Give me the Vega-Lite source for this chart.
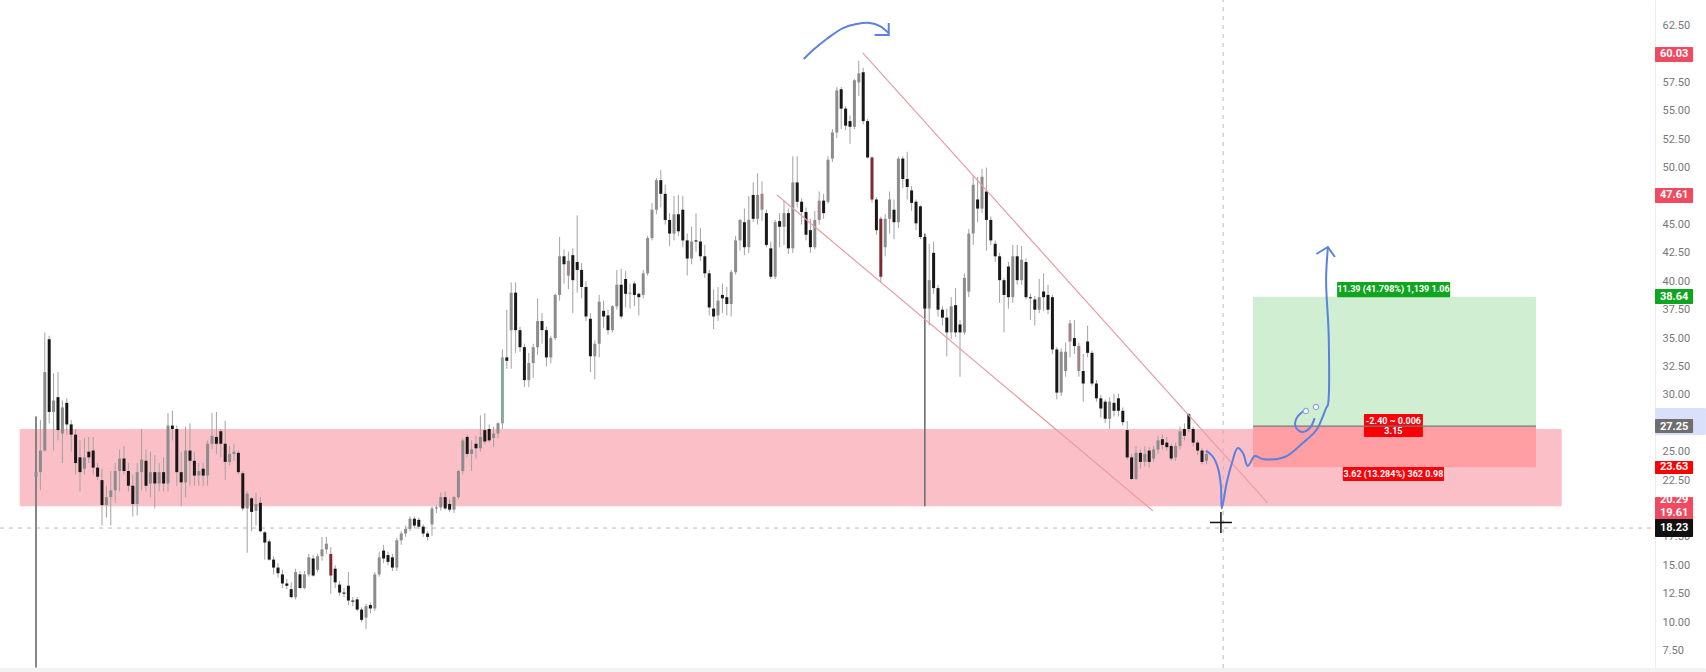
{"$schema":"https://vega.github.io/schema/vega-lite/v6.json","width":1655,"height":668,"autosize":"none","padding":{"left":0,"top":0,"right":51,"bottom":4},"background":"#ffffff","config":{"view":{"stroke":null},"text":{"font":"Roboto"}},
"datasets":{
"rects":[
{"kind":"strip","x":-8.18,"x2":379.5,"hi":5.96,"lo":5.61},
{"kind":"band","x":367.95,"x2":379.5,"hi":28.85,"lo":26.47},
{"kind":"zone","x":-3.7,"x2":346.75,"hi":27.0,"lo":20.2},
{"kind":"profit","x":276.6,"x2":340.9,"hi":38.64,"lo":27.25},
{"kind":"loss","x":276.6,"x2":340.9,"hi":27.25,"lo":23.63},
{"kind":"flagGreen","x":295.7,"x2":321.4,"hi":39.94,"lo":38.6},
{"kind":"flagRed","x":301.8,"x2":315.2,"hi":28.32,"lo":26.29},
{"kind":"flagRed","x":297,"x2":320,"hi":23.65,"lo":22.42},
{"kind":"tagRed","x":367.95,"x2":376.6,"hi":60.62,"lo":59.3},
{"kind":"tagRed","x":367.95,"x2":376.6,"hi":48.21,"lo":46.89},
{"kind":"tagGreen","x":367.95,"x2":376.6,"hi":39.32,"lo":38.0},
{"kind":"tagGray","x":367.95,"x2":376.6,"hi":27.88,"lo":26.64},
{"kind":"tagBright","x":367.95,"x2":376.6,"hi":24.18,"lo":23.03},
{"kind":"tagRed","x":367.95,"x2":376.6,"hi":21.01,"lo":18.98},
{"kind":"tagBlack","x":367.95,"x2":376.6,"hi":19.07,"lo":17.49}
],
"segments":[
{"kind":"cross","x":269.8,"x2":269.8,"y":5.96,"y2":64.76},
{"kind":"cross","x":-8.18,"x2":367.95,"y":18.28,"y2":18.28},
{"kind":"entry","x":276.6,"x2":340.9,"y":27.25,"y2":27.25},
{"kind":"channel","x":187.9,"x2":279.9,"y":60.1,"y2":20.5},
{"kind":"channel","x":168.4,"x2":253.8,"y":47.6,"y2":19.8},
{"kind":"cursor","x":269.3,"x2":269.3,"y":19.69,"y2":17.84},
{"kind":"cursor","x":266.8,"x2":271.8,"y":18.77,"y2":18.77}
],
"sketch":[
{"id":"arc","n":1,"x":174.5,"p":59.57},{"id":"arc","n":2,"x":176.6,"p":60.36},{"id":"arc","n":3,"x":179.7,"p":61.33},{"id":"arc","n":4,"x":183.4,"p":62.29},{"id":"arc","n":5,"x":186.5,"p":62.65},{"id":"arc","n":6,"x":189.5,"p":62.74},{"id":"arc","n":7,"x":191.8,"p":62.47},{"id":"arc","n":8,"x":193.8,"p":61.86},
{"id":"main","n":1,"x":265.9,"p":25.1},{"id":"main","n":2,"x":267.4,"p":24.6},{"id":"main","n":3,"x":268.6,"p":23.6},{"id":"main","n":4,"x":269.3,"p":22.0},{"id":"main","n":5,"x":269.5,"p":20.0},{"id":"main","n":6,"x":270.6,"p":22.24},{"id":"main","n":7,"x":271.8,"p":24.0},{"id":"main","n":8,"x":273.1,"p":25.32},{"id":"main","n":9,"x":274.3,"p":24.88},{"id":"main","n":10,"x":275.4,"p":23.74},{"id":"main","n":11,"x":277,"p":24.62},{"id":"main","n":12,"x":278.8,"p":24.35},{"id":"main","n":13,"x":283.8,"p":24.53},{"id":"main","n":14,"x":287.9,"p":25.76},{"id":"main","n":15,"x":291,"p":26.91},{"id":"main","n":16,"x":292.4,"p":28.05},{"id":"main","n":17,"x":293.2,"p":28.84},{"id":"main","n":18,"x":293.6,"p":29.11},{"id":"main","n":19,"x":293.8,"p":35.09},{"id":"main","n":20,"x":293.2,"p":40.11},{"id":"main","n":21,"x":293.6,"p":42.93},
{"id":"loop","n":1,"x":290.6,"p":27.96},{"id":"loop","n":2,"x":289.5,"p":27.08},{"id":"loop","n":3,"x":287.7,"p":26.73},{"id":"loop","n":4,"x":286.3,"p":27.17},{"id":"loop","n":5,"x":286.5,"p":27.96},{"id":"loop","n":6,"x":288.4,"p":28.67},
{"id":"arrow1","n":1,"x":190.6,"p":61.68},{"id":"arrow1","n":2,"x":193.8,"p":61.68},{"id":"arrow1","n":3,"x":193.8,"p":62.74},
{"id":"arrow2","n":1,"x":291,"p":42.4},{"id":"arrow2","n":2,"x":293.6,"p":43.02},{"id":"arrow2","n":3,"x":295.2,"p":42.14}
],
"handles":[{"x":288.6,"p":28.58},{"x":290.9,"p":28.93}],
"labels":[
{"group":"tag","label":"60.03","x":372.3,"at":60.03},
{"group":"tag","label":"47.61","x":372.3,"at":47.61},
{"group":"tag","label":"38.64","x":372.3,"at":38.64},
{"group":"tag","label":"27.25","x":372.3,"at":27.2},
{"group":"tag","label":"23.63","x":372.3,"at":23.63},
{"group":"tag","label":"20.29","x":372.3,"at":20.72},
{"group":"tag","label":"19.61","x":372.3,"at":19.6},
{"group":"tag","label":"18.23","x":372.3,"at":18.28},
{"group":"pos","label":"11.39 (41.798%) 1,139 1.06","x":308.5,"at":39.28},
{"group":"pos","label":"-2.40 ~ 0.006","x":308.5,"at":27.72},
{"group":"pos","label":"3.15","x":308.5,"at":26.82},
{"group":"pos","label":"3.62 (13.284%) 362 0.98","x":308.5,"at":23.04}
],
"candles":[
{"t":0,"o":22.8,"h":28.1,"l":6,"c":23.2,"k":"up"},{"t":1,"o":23.2,"h":27.8,"l":21.6,"c":25.1,"k":"up"},{"t":2,"o":25.1,"h":35.5,"l":25,"c":32,"k":"up"},{"t":3,"o":34.9,"h":35.2,"l":27.5,"c":28.5,"k":"down"},{"t":4,"o":28.5,"h":31.9,"l":25.1,"c":29.5,"k":"up"},{"t":5,"o":29.8,"h":32,"l":26,"c":26.9,"k":"down"},{"t":6,"o":26.6,"h":29.5,"l":24,"c":28.9,"k":"up"},{"t":7,"o":29.3,"h":29.7,"l":26.5,"c":27.4,"k":"down"},{"t":8,"o":27.4,"h":27.8,"l":25,"c":26.5,"k":"down"},{"t":9,"o":26.5,"h":27,"l":23,"c":24,"k":"down"},
{"t":10,"o":24.5,"h":26,"l":21.5,"c":23.2,"k":"down"},{"t":11,"o":23.5,"h":26.2,"l":23,"c":24.5,"k":"up"},{"t":12,"o":25,"h":26.3,"l":24,"c":24.5,"k":"down"},{"t":13,"o":25.1,"h":26.3,"l":23,"c":23.6,"k":"down"},{"t":14,"o":23.6,"h":24,"l":22.5,"c":22.8,"k":"down"},{"t":15,"o":22.5,"h":23.5,"l":18.5,"c":20.3,"k":"down"},{"t":16,"o":20.3,"h":22,"l":19.2,"c":21,"k":"up"},{"t":17,"o":21,"h":23.3,"l":18.5,"c":21.6,"k":"up"},{"t":18,"o":21.6,"h":24,"l":20.5,"c":23.3,"k":"up"},{"t":19,"o":23.3,"h":25.2,"l":21.5,"c":24.4,"k":"up"},
{"t":20,"o":24.4,"h":25.5,"l":23,"c":23.3,"k":"down"},{"t":21,"o":23.3,"h":24,"l":21.5,"c":22,"k":"down"},{"t":22,"o":22,"h":23,"l":19.3,"c":20.4,"k":"down"},{"t":23,"o":20.4,"h":24,"l":19.4,"c":23.2,"k":"up"},{"t":24,"o":23.2,"h":27,"l":21.6,"c":24.3,"k":"up"},{"t":25,"o":24.2,"h":25.2,"l":21.5,"c":22,"k":"down"},{"t":26,"o":22.2,"h":25,"l":21,"c":23.2,"k":"up"},{"t":27,"o":23.2,"h":24.7,"l":20,"c":22.2,"k":"down"},{"t":28,"o":22.2,"h":24,"l":21.5,"c":23.2,"k":"up"},{"t":29,"o":23.2,"h":24.5,"l":21.5,"c":22.2,"k":"down"},
{"t":30,"o":22.2,"h":28.4,"l":21.5,"c":27.3,"k":"up"},{"t":31,"o":27.3,"h":28.6,"l":26,"c":27,"k":"down"},{"t":32,"o":27,"h":27.3,"l":22,"c":23.2,"k":"down"},{"t":33,"o":23.2,"h":25,"l":20.2,"c":22.3,"k":"down"},{"t":34,"o":22.3,"h":27.2,"l":21,"c":25.1,"k":"up"},{"t":35,"o":25.1,"h":27.5,"l":22,"c":24.2,"k":"down"},{"t":36,"o":24.2,"h":25,"l":22,"c":22.9,"k":"down"},{"t":37,"o":22.9,"h":24,"l":22,"c":23.3,"k":"up"},{"t":38,"o":23.5,"h":24,"l":22,"c":22.9,"k":"down"},{"t":39,"o":22.9,"h":26,"l":22,"c":25.7,"k":"up"},
{"t":40,"o":25.7,"h":28.4,"l":25.2,"c":26.4,"k":"up"},{"t":41,"o":26.3,"h":28.5,"l":24.8,"c":25.7,"k":"down"},{"t":42,"o":26.8,"h":27,"l":24.5,"c":25.7,"k":"down"},{"t":43,"o":25.7,"h":27.7,"l":22.5,"c":24.1,"k":"down"},{"t":44,"o":24.1,"h":25.5,"l":23.8,"c":24.8,"k":"up"},{"t":45,"o":24.8,"h":25.7,"l":24.2,"c":25,"k":"up"},{"t":46,"o":24.9,"h":25.1,"l":23,"c":23.2,"k":"down"},{"t":47,"o":23.1,"h":23.3,"l":19.8,"c":20,"k":"down"},{"t":48,"o":20,"h":21.5,"l":16.1,"c":21.3,"k":"up"},{"t":49,"o":20.9,"h":21,"l":18,"c":19.7,"k":"down"},
{"t":50,"o":19.8,"h":21.4,"l":18.5,"c":20.4,"k":"up"},{"t":51,"o":20.5,"h":21,"l":17.9,"c":18,"k":"down"},{"t":52,"o":17.9,"h":18,"l":15.5,"c":17,"k":"down"},{"t":53,"o":17.1,"h":17.3,"l":15.4,"c":15.5,"k":"down"},{"t":54,"o":15.5,"h":15.8,"l":14.2,"c":14.8,"k":"down"},{"t":55,"o":14.8,"h":15.2,"l":13.9,"c":14.3,"k":"down"},{"t":56,"o":14.2,"h":14.6,"l":13,"c":13.4,"k":"down"},{"t":57,"o":13.4,"h":13.8,"l":12.9,"c":13.2,"k":"down"},{"t":58,"o":12.9,"h":13.5,"l":12.1,"c":12.2,"k":"down"},{"t":59,"o":12.2,"h":14.7,"l":12,"c":14.4,"k":"up"},
{"t":60,"o":14.2,"h":14.5,"l":12.9,"c":13,"k":"down"},{"t":61,"o":13,"h":14.5,"l":12.9,"c":14.2,"k":"up"},{"t":62,"o":14.2,"h":16,"l":14,"c":15.7,"k":"up"},{"t":63,"o":15.6,"h":15.9,"l":14,"c":14.1,"k":"down"},{"t":64,"o":14.6,"h":16,"l":14.4,"c":15.8,"k":"up"},{"t":65,"o":15.8,"h":17.5,"l":15.4,"c":16.4,"k":"up"},{"t":66,"o":16.4,"h":17.5,"l":16,"c":16.9,"k":"up"},{"t":67,"o":16,"h":16.6,"l":12.5,"c":14.1,"k":"red"},{"t":68,"o":14.7,"h":15,"l":13,"c":13.5,"k":"down"},{"t":69,"o":13.3,"h":13.6,"l":12.3,"c":12.6,"k":"down"},
{"t":70,"o":12.6,"h":13,"l":12.2,"c":12.5,"k":"down"},{"t":71,"o":13.2,"h":14.4,"l":11.5,"c":11.9,"k":"down"},{"t":72,"o":11.9,"h":12.2,"l":11.4,"c":11.8,"k":"down"},{"t":73,"o":12,"h":12.2,"l":11,"c":11.1,"k":"down"},{"t":74,"o":11.1,"h":11.3,"l":10,"c":10.2,"k":"down"},{"t":75,"o":10.4,"h":11.6,"l":9.4,"c":11.4,"k":"up"},{"t":76,"o":11.5,"h":11.7,"l":10.8,"c":11.2,"k":"down"},{"t":77,"o":11.2,"h":14.4,"l":11,"c":14.2,"k":"up"},{"t":78,"o":14.2,"h":16.2,"l":14,"c":15.7,"k":"up"},{"t":79,"o":16.3,"h":16.8,"l":15.2,"c":15.6,"k":"down"},
{"t":80,"o":15.9,"h":16.2,"l":15,"c":15.3,"k":"down"},{"t":81,"o":15.7,"h":16,"l":14.5,"c":14.8,"k":"down"},{"t":82,"o":14.8,"h":17.4,"l":14.5,"c":17.2,"k":"up"},{"t":83,"o":17.2,"h":18,"l":16.8,"c":17.8,"k":"up"},{"t":84,"o":17.8,"h":18.5,"l":17.5,"c":18.2,"k":"up"},{"t":85,"o":18.2,"h":19.3,"l":18,"c":19.1,"k":"up"},{"t":86,"o":19.1,"h":19.3,"l":18.3,"c":18.5,"k":"down"},{"t":87,"o":19,"h":19.2,"l":18.2,"c":18.4,"k":"down"},{"t":88,"o":18.4,"h":18.6,"l":17.5,"c":17.8,"k":"down"},{"t":89,"o":17.8,"h":18,"l":17.2,"c":17.5,"k":"down"},
{"t":90,"o":18.6,"h":20.2,"l":17.6,"c":20,"k":"up"},{"t":91,"o":20,"h":20.3,"l":19.6,"c":20.1,"k":"up"},{"t":92,"o":20.1,"h":21.4,"l":19.8,"c":21,"k":"up"},{"t":93,"o":21,"h":21.5,"l":19.9,"c":20,"k":"down"},{"t":94,"o":20.4,"h":20.8,"l":19.7,"c":19.9,"k":"down"},{"t":95,"o":19.9,"h":21.1,"l":19.6,"c":21,"k":"up"},{"t":96,"o":21,"h":23.4,"l":20.8,"c":23.3,"k":"up"},{"t":97,"o":23.3,"h":26.2,"l":23,"c":26,"k":"up"},{"t":98,"o":26.3,"h":26.5,"l":24.5,"c":24.8,"k":"down"},{"t":99,"o":24.8,"h":26,"l":23.3,"c":25.2,"k":"up"},
{"t":100,"o":25.7,"h":26.4,"l":24.4,"c":25.3,"k":"down"},{"t":101,"o":25.3,"h":28.2,"l":25,"c":26.3,"k":"up"},{"t":102,"o":26.9,"h":28.4,"l":25.7,"c":25.9,"k":"down"},{"t":103,"o":27,"h":27.4,"l":25.8,"c":26,"k":"down"},{"t":104,"o":26.2,"h":27.2,"l":25.4,"c":26.6,"k":"up"},{"t":105,"o":26.6,"h":27.6,"l":26.2,"c":27.5,"k":"up"},{"t":106,"o":27.5,"h":34,"l":27,"c":33.3,"k":"teal"},
{"t":107,"o":33.3,"h":37.5,"l":32.3,"c":33,"k":"down"},{"t":108,"o":35.7,"h":39.9,"l":32.3,"c":39,"k":"up"},{"t":109,"o":39,"h":39.9,"l":33.7,"c":35.7,"k":"down"},{"t":110,"o":35.7,"h":36,"l":33.8,"c":34.2,"k":"down"},{"t":111,"o":34.2,"h":34.5,"l":30.7,"c":31.3,"k":"down"},{"t":112,"o":31.3,"h":33.7,"l":30.7,"c":32.8,"k":"up"},{"t":113,"o":32.8,"h":34.5,"l":31.5,"c":34.2,"k":"up"},{"t":114,"o":34.2,"h":38.5,"l":33.5,"c":36.5,"k":"up"},{"t":115,"o":36.5,"h":37.2,"l":34.5,"c":35.7,"k":"down"},{"t":116,"o":35.7,"h":36,"l":32.5,"c":33.3,"k":"down"},{"t":117,"o":33.3,"h":35.2,"l":32.8,"c":35,"k":"up"},{"t":118,"o":35,"h":38.9,"l":34.8,"c":38.8,"k":"up"},{"t":119,"o":38.8,"h":43.9,"l":38.3,"c":42.2,"k":"up"},
{"t":120,"o":42.2,"h":42.8,"l":39.8,"c":41.5,"k":"down"},{"t":121,"o":41.8,"h":42.6,"l":39.3,"c":40.5,"k":"faint"},{"t":122,"o":42.3,"h":42.9,"l":37.2,"c":40.1,"k":"down"},{"t":123,"o":41.7,"h":45.8,"l":39,"c":41,"k":"down"},{"t":124,"o":41,"h":41.6,"l":38.5,"c":39.5,"k":"down"},{"t":125,"o":39.5,"h":40,"l":36.5,"c":36.9,"k":"down"},{"t":126,"o":36.7,"h":37.2,"l":32,"c":33.4,"k":"down"},{"t":127,"o":33.4,"h":34.8,"l":31.4,"c":34.5,"k":"up"},{"t":128,"o":34.5,"h":38.8,"l":33.3,"c":38.2,"k":"up"},{"t":129,"o":37.4,"h":38.3,"l":35.9,"c":36.9,"k":"down"},
{"t":130,"o":37,"h":37.5,"l":35.3,"c":35.7,"k":"down"},{"t":131,"o":35.7,"h":37.9,"l":35.5,"c":37.8,"k":"up"},{"t":132,"o":37.8,"h":41,"l":37.5,"c":39.7,"k":"up"},{"t":133,"o":39.7,"h":41.1,"l":36.7,"c":36.9,"k":"down"},{"t":134,"o":40.2,"h":40.9,"l":37.7,"c":38.9,"k":"down"},{"t":135,"o":38.9,"h":39.8,"l":37.6,"c":39,"k":"up"},{"t":136,"o":39.8,"h":40,"l":37.8,"c":38.8,"k":"down"},{"t":137,"o":38.9,"h":39,"l":37,"c":38.6,"k":"down"},{"t":138,"o":38.8,"h":41,"l":38.5,"c":40.7,"k":"up"},{"t":139,"o":40.7,"h":44,"l":40.5,"c":43.8,"k":"up"},
{"t":140,"o":43.8,"h":46.9,"l":43.6,"c":46.3,"k":"up"},{"t":141,"o":46.3,"h":49.1,"l":45.9,"c":48.9,"k":"up"},{"t":142,"o":48.9,"h":49.8,"l":46.5,"c":47.7,"k":"down"},{"t":143,"o":47.7,"h":48.5,"l":45,"c":45.4,"k":"down"},{"t":144,"o":45.4,"h":46,"l":43.1,"c":44.2,"k":"down"},{"t":145,"o":44.2,"h":47.5,"l":43.6,"c":45.9,"k":"up"},{"t":146,"o":45.9,"h":47.6,"l":44,"c":44.4,"k":"down"},{"t":147,"o":46.3,"h":47.5,"l":43,"c":43.6,"k":"down"},{"t":148,"o":43.6,"h":44.2,"l":40.5,"c":42,"k":"down"},{"t":149,"o":42,"h":44.8,"l":41.5,"c":43.5,"k":"up"},
{"t":150,"o":43.6,"h":46,"l":42.6,"c":43.5,"k":"down"},{"t":151,"o":43.5,"h":44.7,"l":41.8,"c":42.2,"k":"down"},{"t":152,"o":42.2,"h":43.2,"l":40.3,"c":40.7,"k":"down"},{"t":153,"o":40.7,"h":41,"l":37,"c":37.7,"k":"down"},{"t":154,"o":37.6,"h":39.3,"l":35.8,"c":36.9,"k":"down"},{"t":155,"o":37,"h":39.5,"l":36.5,"c":38.3,"k":"up"},{"t":156,"o":38.8,"h":39.8,"l":37.2,"c":38.5,"k":"down"},{"t":157,"o":38.6,"h":39.5,"l":37,"c":38,"k":"down"},{"t":158,"o":38,"h":41,"l":36.9,"c":40.8,"k":"up"},{"t":159,"o":40.8,"h":44,"l":40.6,"c":43.6,"k":"up"},
{"t":160,"o":43.6,"h":45.5,"l":42.7,"c":45.4,"k":"up"},{"t":161,"o":45.2,"h":46.4,"l":42.3,"c":43,"k":"down"},{"t":162,"o":43,"h":47.5,"l":42.5,"c":45.4,"k":"up"},{"t":163,"o":47.6,"h":48.7,"l":45.2,"c":45.5,"k":"down"},{"t":164,"o":45.5,"h":49.5,"l":45,"c":47.6,"k":"up"},{"t":165,"o":47.7,"h":48.8,"l":45.3,"c":46.3,"k":"faint"},{"t":166,"o":46,"h":46.3,"l":43,"c":43.2,"k":"down"},{"t":167,"o":42.9,"h":43.5,"l":40.2,"c":40.4,"k":"down"},{"t":168,"o":40.4,"h":45.4,"l":40.2,"c":45.2,"k":"up"},{"t":169,"o":45.3,"h":46,"l":43,"c":44.8,"k":"down"},
{"t":170,"o":44.8,"h":47.1,"l":43.2,"c":46,"k":"up"},{"t":171,"o":46,"h":46.4,"l":42.4,"c":42.9,"k":"down"},{"t":172,"o":42.9,"h":51,"l":42.5,"c":48.7,"k":"up"},{"t":173,"o":48.7,"h":51,"l":46.5,"c":47,"k":"down"},{"t":174,"o":47,"h":47.3,"l":45,"c":46.1,"k":"down"},{"t":175,"o":46.1,"h":46.5,"l":43.6,"c":44.1,"k":"down"},{"t":176,"o":44.5,"h":45.5,"l":42.5,"c":43,"k":"down"},{"t":177,"o":43,"h":46.2,"l":42.8,"c":45.4,"k":"up"},{"t":178,"o":45.4,"h":47.9,"l":45,"c":47.1,"k":"faint"},{"t":179,"o":47.1,"h":47.7,"l":45.5,"c":46,"k":"down"},
{"t":180,"o":47,"h":51,"l":46.8,"c":50.7,"k":"up"},{"t":181,"o":50.8,"h":53.4,"l":50.5,"c":53.1,"k":"up"},{"t":182,"o":53.1,"h":57.1,"l":52.6,"c":56.8,"k":"up"},{"t":183,"o":56.9,"h":57.1,"l":53.4,"c":55.2,"k":"down"},{"t":184,"o":55.2,"h":55.4,"l":53.3,"c":53.7,"k":"down"},{"t":185,"o":54.1,"h":54.6,"l":52.1,"c":53.6,"k":"down"},{"t":186,"o":53.6,"h":57.8,"l":53.4,"c":57.7,"k":"up"},{"t":187,"o":57.5,"h":59.4,"l":56.3,"c":58.3,"k":"up"},{"t":188,"o":58.4,"h":58.8,"l":53.8,"c":54.1,"k":"down"},{"t":189,"o":54.1,"h":54.3,"l":50.8,"c":50.9,"k":"down"},
{"t":190,"o":50.9,"h":51,"l":46.9,"c":47.2,"k":"red"},{"t":191,"o":47.2,"h":47.4,"l":44.1,"c":44.5,"k":"down"},{"t":192,"o":45.5,"h":45.7,"l":39.9,"c":40.4,"k":"red"},{"t":193,"o":43,"h":45.9,"l":42.2,"c":45.5,"k":"up"},{"t":194,"o":45.5,"h":47.9,"l":44.2,"c":47.2,"k":"up"},{"t":195,"o":46.3,"h":47.2,"l":43.7,"c":45.2,"k":"down"},{"t":196,"o":45.2,"h":51,"l":44.7,"c":50.8,"k":"up"},{"t":197,"o":50.8,"h":51,"l":48.2,"c":49,"k":"down"},{"t":198,"o":49,"h":51.4,"l":47.2,"c":48.3,"k":"down"},{"t":199,"o":48,"h":48.4,"l":46.2,"c":46.9,"k":"down"},
{"t":200,"o":47,"h":47.2,"l":44.5,"c":45.1,"k":"down"},{"t":201,"o":46.6,"h":46.7,"l":43.7,"c":43.9,"k":"down"},{"t":202,"o":43.9,"h":44.2,"l":20.2,"c":37.6,"k":"down"},{"t":203,"o":37.6,"h":43.3,"l":36.1,"c":40.1,"k":"up"},{"t":204,"o":42.5,"h":43.5,"l":38.9,"c":39.4,"k":"down"},{"t":205,"o":39.4,"h":39.7,"l":36.9,"c":37.5,"k":"down"},{"t":206,"o":37.5,"h":37.8,"l":36.1,"c":36.8,"k":"down"},{"t":207,"o":36.8,"h":37.6,"l":33.4,"c":35.5,"k":"down"},{"t":208,"o":35.5,"h":38.6,"l":34.9,"c":37.8,"k":"up"},{"t":209,"o":37.9,"h":39.4,"l":35.1,"c":35.5,"k":"down"},
{"t":210,"o":36.2,"h":36.6,"l":31.6,"c":35.5,"k":"down"},{"t":211,"o":35.5,"h":40.7,"l":35.3,"c":40.3,"k":"up"},{"t":212,"o":39.1,"h":44.6,"l":38.6,"c":44.2,"k":"up"},{"t":213,"o":44.2,"h":49.3,"l":43.2,"c":48.5,"k":"up"},{"t":214,"o":47.2,"h":49.2,"l":45.2,"c":46.4,"k":"down"},{"t":215,"o":46.4,"h":49.9,"l":46,"c":49.2,"k":"up"},{"t":216,"o":47.9,"h":50,"l":42.7,"c":45.4,"k":"down"},{"t":217,"o":45.4,"h":45.7,"l":43.2,"c":43.6,"k":"down"},{"t":218,"o":43.3,"h":43.6,"l":41.7,"c":42.2,"k":"down"},{"t":219,"o":42.2,"h":42.5,"l":38.1,"c":40.1,"k":"down"},
{"t":220,"o":40.1,"h":40.3,"l":35.5,"c":38.8,"k":"down"},{"t":221,"o":41.3,"h":41.7,"l":37.6,"c":38.6,"k":"down"},{"t":222,"o":38.6,"h":43.2,"l":38.1,"c":42.2,"k":"up"},{"t":223,"o":42.2,"h":43.2,"l":39.7,"c":40.1,"k":"down"},{"t":224,"o":40.1,"h":43.1,"l":39.7,"c":41.9,"k":"up"},{"t":225,"o":41.7,"h":42,"l":38.4,"c":38.6,"k":"down"},{"t":226,"o":38.6,"h":38.9,"l":36.6,"c":38.5,"k":"down"},{"t":227,"o":38.4,"h":38.7,"l":36.1,"c":37.5,"k":"down"},{"t":228,"o":37.5,"h":40.2,"l":37.2,"c":38.6,"k":"up"},{"t":229,"o":39.1,"h":40.7,"l":37.4,"c":38.6,"k":"down"},
{"t":230,"o":38.8,"h":39.7,"l":37.1,"c":37.5,"k":"down"},{"t":231,"o":38.6,"h":38.8,"l":33.6,"c":34,"k":"down"},{"t":232,"o":34,"h":34.2,"l":29.6,"c":30.2,"k":"down"},{"t":233,"o":30.2,"h":34.1,"l":29.9,"c":33.8,"k":"up"},{"t":234,"o":32.1,"h":34.6,"l":31.6,"c":33.8,"k":"up"},{"t":235,"o":34.7,"h":36.6,"l":33.3,"c":36.3,"k":"faint"},{"t":236,"o":35,"h":36.6,"l":33.6,"c":34.3,"k":"down"},{"t":237,"o":34.3,"h":34.6,"l":31.6,"c":32.1,"k":"faint"},{"t":238,"o":32.1,"h":33.6,"l":29.4,"c":31,"k":"down"},{"t":239,"o":34.7,"h":36.1,"l":33.3,"c":33.7,"k":"down"},
{"t":240,"o":33.7,"h":33.9,"l":30.8,"c":31,"k":"down"},{"t":241,"o":31,"h":31.3,"l":29.4,"c":29.7,"k":"down"},{"t":242,"o":29.7,"h":30,"l":28,"c":28.8,"k":"down"},{"t":243,"o":29.4,"h":29.6,"l":27.5,"c":27.9,"k":"down"},{"t":244,"o":27.9,"h":29.8,"l":27,"c":29.4,"k":"up"},{"t":245,"o":29.3,"h":30.1,"l":28.1,"c":28.6,"k":"down"},{"t":246,"o":29.7,"h":30.1,"l":28.1,"c":28.6,"k":"down"},{"t":247,"o":28.6,"h":28.9,"l":27.3,"c":27.6,"k":"down"},{"t":248,"o":26.9,"h":27.7,"l":24.3,"c":24.5,"k":"down"},{"t":249,"o":24.5,"h":24.8,"l":22.5,"c":22.6,"k":"down"},
{"t":250,"o":22.6,"h":25.5,"l":22.5,"c":24.9,"k":"up"},{"t":251,"o":24.9,"h":25.2,"l":23.5,"c":24.1,"k":"down"},{"t":252,"o":24.1,"h":25.5,"l":23.7,"c":24.8,"k":"up"},{"t":253,"o":25.1,"h":25.4,"l":23.6,"c":24.1,"k":"down"},{"t":254,"o":24.4,"h":25.5,"l":24.1,"c":25.2,"k":"up"},{"t":255,"o":25.2,"h":26.4,"l":24.8,"c":26,"k":"up"},{"t":256,"o":26.1,"h":26.5,"l":25.2,"c":25.6,"k":"down"},{"t":257,"o":25.8,"h":26.3,"l":25.1,"c":25.4,"k":"down"},{"t":258,"o":25.5,"h":25.7,"l":24.2,"c":24.4,"k":"down"},{"t":259,"o":24.5,"h":25.8,"l":24.2,"c":25.5,"k":"up"},
{"t":260,"o":25.5,"h":27.2,"l":25.2,"c":26.8,"k":"up"},{"t":261,"o":27,"h":27.5,"l":26,"c":26.4,"k":"down"},{"t":262,"o":28.3,"h":28.4,"l":26.7,"c":27,"k":"down"},{"t":263,"o":27,"h":27.2,"l":25.5,"c":25.8,"k":"down"},{"t":264,"o":25.8,"h":26,"l":24.7,"c":25.1,"k":"down"},{"t":265,"o":25.1,"h":25.3,"l":23.9,"c":24.1,"k":"down"},{"t":266,"o":24.2,"h":25.1,"l":23.9,"c":24.8,"k":"up"}
]},
"layer":[
{"data":{"name":"rects"},"mark":{"type":"rect","cornerRadius":1},"encoding":{
"x":{"field":"x","type":"quantitative","scale":{"domain":[-8.18,367.95],"nice":false,"zero":false,"padding":0},"axis":null},"x2":{"field":"x2"},
"y":{"field":"hi","type":"quantitative","scale":{"domain":[5.96,64.76],"nice":false,"zero":false},"axis":{"orient":"right","title":null,"values":[7.5,10,12.5,15,17.5,22.5,25,30,32.5,35,37.5,40,42.5,45,50,52.5,55,57.5,62.5],"format":".2f","ticks":false,"grid":false,"domainColor":"#ececec","labelColor":"#777777","labelFont":"Roboto","labelFontSize":11,"labelPadding":7,"labelFlush":false,"labelOverlap":false,"labelBound":false}},"y2":{"field":"lo"},
"color":{"field":"kind","type":"nominal","legend":null,"scale":{"domain":["strip","band","zone","profit","loss","flagGreen","flagRed","tagRed","tagGreen","tagGray","tagBright","tagBlack"],"range":["#f2f2f2","#d8e0fa","#fbc0c7","#cfeed2","#ff9ea3","#10a51f","#fa0007","#ef4a5f","#10a51f","#6e6e6e","#ff0000","#111111"]}}}},
{"data":{"name":"segments"},"transform":[{"filter":"datum.kind=='cross'"}],"mark":{"type":"rule","color":"#b9b9b9","strokeWidth":1,"strokeDash":[4,5]},"encoding":{
"x":{"field":"x","type":"quantitative","scale":{"domain":[-8.18,367.95],"nice":false,"zero":false,"padding":0},"axis":null},"x2":{"field":"x2"},
"y":{"field":"y","type":"quantitative","scale":{"domain":[5.96,64.76],"nice":false,"zero":false},"axis":null},"y2":{"field":"y2"}}},
{"data":{"name":"segments"},"transform":[{"filter":"datum.kind=='entry'"}],"mark":{"type":"rule","color":"#777777","strokeWidth":1.2},"encoding":{
"x":{"field":"x","type":"quantitative","scale":{"domain":[-8.18,367.95],"nice":false,"zero":false,"padding":0},"axis":null},"x2":{"field":"x2"},
"y":{"field":"y","type":"quantitative","scale":{"domain":[5.96,64.76],"nice":false,"zero":false},"axis":null},"y2":{"field":"y2"}}},
{"data":{"name":"candles"},"mark":{"type":"rule","color":"#a2a2a2","strokeWidth":1},"encoding":{
"x":{"field":"t","type":"quantitative","scale":{"domain":[-8.18,367.95],"nice":false,"zero":false,"padding":0},"axis":null},
"y":{"field":"l","type":"quantitative","scale":{"domain":[5.96,64.76],"nice":false,"zero":false},"axis":null},"y2":{"field":"h"}}},
{"data":{"name":"candles"},"transform":[{"filter":"datum.t==0||datum.t==202"}],"mark":{"type":"rule","color":"#6f6f6f","strokeWidth":1.5},"encoding":{
"x":{"field":"t","type":"quantitative","scale":{"domain":[-8.18,367.95],"nice":false,"zero":false,"padding":0},"axis":null},
"y":{"field":"l","type":"quantitative","scale":{"domain":[5.96,64.76],"nice":false,"zero":false},"axis":null},"y2":{"field":"h"}}},
{"data":{"name":"candles"},"mark":{"type":"bar","size":3},"encoding":{
"x":{"field":"t","type":"quantitative","scale":{"domain":[-8.18,367.95],"nice":false,"zero":false,"padding":0},"axis":null},
"y":{"field":"o","type":"quantitative","scale":{"domain":[5.96,64.76],"nice":false,"zero":false},"axis":null},"y2":{"field":"c"},
"color":{"field":"k","type":"nominal","legend":null,"scale":{"domain":["up","down","red","faint","teal"],"range":["#8c8c8c","#181818","#7d2a33","#a08488","#86a89e"]}}}},
{"data":{"name":"segments"},"transform":[{"filter":"datum.kind=='channel'"}],"mark":{"type":"rule","color":"#eb9aa3","strokeWidth":1.2},"encoding":{
"x":{"field":"x","type":"quantitative","scale":{"domain":[-8.18,367.95],"nice":false,"zero":false,"padding":0},"axis":null},"x2":{"field":"x2"},
"y":{"field":"y","type":"quantitative","scale":{"domain":[5.96,64.76],"nice":false,"zero":false},"axis":null},"y2":{"field":"y2"}}},
{"data":{"name":"sketch"},"transform":[{"filter":"datum.id=='arc'||datum.id=='main'||datum.id=='loop'"}],"mark":{"type":"line","color":"#5b80de","strokeWidth":2,"interpolate":"catmull-rom"},"encoding":{
"x":{"field":"x","type":"quantitative","scale":{"domain":[-8.18,367.95],"nice":false,"zero":false,"padding":0},"axis":null},
"y":{"field":"p","type":"quantitative","scale":{"domain":[5.96,64.76],"nice":false,"zero":false},"axis":null},
"detail":{"field":"id"},"order":{"field":"n"}}},
{"data":{"name":"sketch"},"transform":[{"filter":"datum.id=='arrow1'||datum.id=='arrow2'"}],"mark":{"type":"line","color":"#5b80de","strokeWidth":2},"encoding":{
"x":{"field":"x","type":"quantitative","scale":{"domain":[-8.18,367.95],"nice":false,"zero":false,"padding":0},"axis":null},
"y":{"field":"p","type":"quantitative","scale":{"domain":[5.96,64.76],"nice":false,"zero":false},"axis":null},
"detail":{"field":"id"},"order":{"field":"n"}}},
{"data":{"name":"handles"},"mark":{"type":"point","filled":true,"fill":"#ffffff","stroke":"#8aa4ea","strokeWidth":1.2,"size":28,"opacity":1},"encoding":{
"x":{"field":"x","type":"quantitative","scale":{"domain":[-8.18,367.95],"nice":false,"zero":false,"padding":0},"axis":null},
"y":{"field":"p","type":"quantitative","scale":{"domain":[5.96,64.76],"nice":false,"zero":false},"axis":null}}},
{"data":{"name":"segments"},"transform":[{"filter":"datum.kind=='cursor'"}],"mark":{"type":"rule","color":"#111111","strokeWidth":1.5},"encoding":{
"x":{"field":"x","type":"quantitative","scale":{"domain":[-8.18,367.95],"nice":false,"zero":false,"padding":0},"axis":null},"x2":{"field":"x2"},
"y":{"field":"y","type":"quantitative","scale":{"domain":[5.96,64.76],"nice":false,"zero":false},"axis":null},"y2":{"field":"y2"}}},
{"data":{"name":"labels"},"transform":[{"filter":"datum.group=='tag'"}],"mark":{"type":"text","color":"#ffffff","fontSize":11,"fontWeight":"bold","font":"Roboto","baseline":"middle","align":"center"},"encoding":{
"x":{"field":"x","type":"quantitative","scale":{"domain":[-8.18,367.95],"nice":false,"zero":false,"padding":0},"axis":null},
"y":{"field":"at","type":"quantitative","scale":{"domain":[5.96,64.76],"nice":false,"zero":false},"axis":null},"text":{"field":"label"}}},
{"data":{"name":"labels"},"transform":[{"filter":"datum.group=='pos'"}],"mark":{"type":"text","color":"#ffffff","fontSize":9,"fontWeight":"bold","font":"Roboto","baseline":"middle","align":"center"},"encoding":{
"x":{"field":"x","type":"quantitative","scale":{"domain":[-8.18,367.95],"nice":false,"zero":false,"padding":0},"axis":null},
"y":{"field":"at","type":"quantitative","scale":{"domain":[5.96,64.76],"nice":false,"zero":false},"axis":null},"text":{"field":"label"}}}
],
"resolve":{"scale":{"color":"independent"},"axis":{"y":"independent"}}}
